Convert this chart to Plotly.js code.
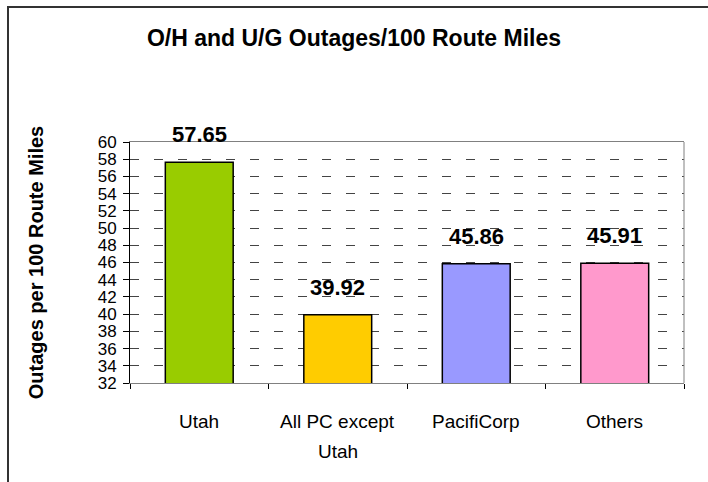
<!DOCTYPE html>
<html>
<head>
<meta charset="utf-8">
<script src="https://cdn.plot.ly/plotly-3.0.1.min.js"></script>
<style>
  html, body { margin: 0; padding: 0; background: #fff; }
  #chart { width: 708px; height: 482px; }
</style>
</head>
<body>
<div id="chart"></div>
<script>
// ---- data ----
const categories = ["Utah", "All PC except Utah", "PacifiCorp", "Others"];
const labelLines = [["Utah"], ["All PC except", "Utah"], ["PacifiCorp"], ["Others"]];
const values = [57.65, 39.92, 45.86, 45.91];
const barColors = ["#99CC00", "#FFCC00", "#9999FF", "#FF99CC"];
const yRange = [32, 60];
const yStep = 2;
const chartTitle = "O/H and U/G Outages/100 Route Miles";
const yTitle = "Outages per 100 Route Miles";

// ---- layout geometry ----
const W = 708, H = 482;
const M = { l: 130, r: 24, t: 142, b: 99 };
const pw = W - M.l - M.r, ph = H - M.t - M.b;
const px = v => (v - M.l) / pw;          // pixel x -> paper x
const py = v => (H - M.b - v) / ph;       // pixel y -> paper y

const font = "Liberation Sans, Arial, sans-serif";

const trace = {
  type: "bar",
  x: categories,
  y: values,
  marker: { color: barColors, line: { color: "#000", width: 1.5 } },
  hoverinfo: "none"
};

const annotations = [];
categories.forEach((c, i) => {
  annotations.push({
    x: c, y: values[i], xref: "x", yref: "y",
    text: "<b>" + values[i].toFixed(2) + "</b>",
    showarrow: false, yanchor: "bottom", yshift: 13,
    font: { family: font, size: 22, color: "#000" }
  });
  labelLines[i].forEach((ln, j) => {
    annotations.push({
      x: c, y: 0, xref: "x", yref: "paper",
      text: ln, showarrow: false, yanchor: "middle",
      yshift: -38 - 30 * j,
      font: { family: font, size: 19, color: "#000" }
    });
  });
});

const layout = {
  width: W, height: H,
  margin: M,
  paper_bgcolor: "#fff", plot_bgcolor: "#fff",
  font: { family: font, color: "#000" },
  showlegend: false,
  bargap: 0.51,
  title: {
    text: "<b>" + chartTitle + "</b>",
    xref: "container", yref: "container",
    x: 354 / W, xanchor: "center",
    y: 1 - 38 / H, yanchor: "middle",
    font: { family: font, size: 23, color: "#000" }
  },
  xaxis: {
    type: "category",
    range: [-0.5, categories.length - 0.5],
    showticklabels: false,
    tickson: "boundaries",
    ticks: "outside", ticklen: 5, tickcolor: "#000", tickwidth: 1,
    showline: true, linecolor: "#808080", linewidth: 1, mirror: true,
    showgrid: false, zeroline: false, fixedrange: true
  },
  yaxis: {
    range: yRange,
    tick0: yRange[0], dtick: yStep,
    ticks: "outside", ticklen: 6, tickcolor: "#000", tickwidth: 1,
    ticklabelstandoff: 3,
    tickfont: { family: font, size: 17, color: "#000" },
    showline: true, linecolor: "#000", linewidth: 1,
    showgrid: true, gridcolor: "#444", gridwidth: 1, griddash: "9px,15px",
    zeroline: false, fixedrange: true,
    title: {
      text: "<b>" + yTitle + "</b>",
      standoff: 48,
      font: { family: font, size: 20, color: "#000" }
    }
  },
  shapes: [
    { type: "line", xref: "paper", yref: "paper", x0: 1, x1: 1, y0: 0, y1: 1,
      line: { color: "#808080", width: 1 } },
    { type: "line", xref: "paper", yref: "paper", x0: px(8), x1: px(8), y0: py(6), y1: py(H + 2),
      line: { color: "#333", width: 2 } },
    { type: "line", xref: "paper", yref: "paper", x0: px(7), x1: px(W + 2), y0: py(7), y1: py(7),
      line: { color: "#333", width: 2 } }
  ],
  annotations: annotations
};

Plotly.newPlot("chart", [trace], layout, { staticPlot: true, displayModeBar: false });
</script>
</body>
</html>
